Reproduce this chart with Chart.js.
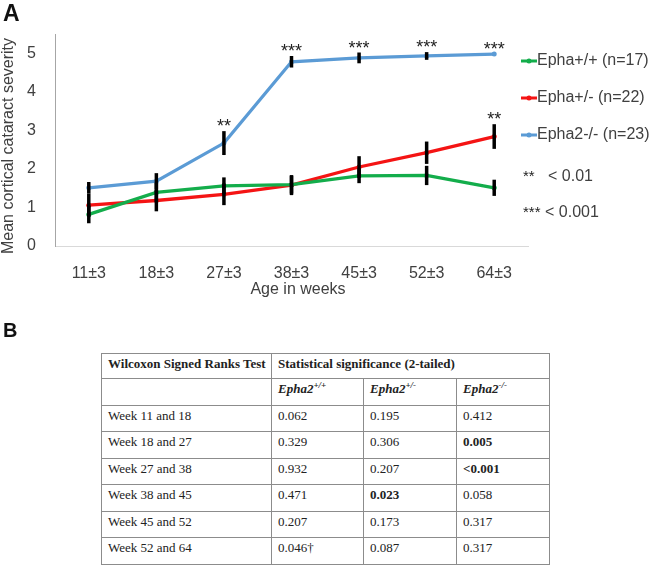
<!DOCTYPE html>
<html>
<head>
<meta charset="utf-8">
<script src="https://cdn.jsdelivr.net/npm/chart.js@4/dist/chart.umd.min.js"></script>
<style>
body{margin:0;background:#fff;width:652px;height:565px;overflow:hidden;position:relative;font-family:'Liberation Sans',Arial,sans-serif}
#wrap{position:absolute;left:0;top:0;width:652px;height:300px}
.panel{position:absolute;left:3px;font-weight:bold;color:#111}
#pA{top:2px;font-size:23px;line-height:23px}
#pB{top:320px;font-size:20px;line-height:20px}
table{position:absolute;left:101px;top:353px;border-collapse:collapse;table-layout:fixed;width:449px;font-family:'Liberation Serif','Times New Roman',serif;font-size:13px;color:#222}
td{border:1px solid #8c8c8c;padding:2px 6px 0;vertical-align:top;line-height:15px;white-space:nowrap;overflow:hidden}
tr{height:26.5px}
tr.head{height:25px}
sup{font-size:9px;line-height:0}
</style>
</head>
<body>
<div id="wrap"><canvas id="severityChart"></canvas></div>
<div class="panel" id="pA">A</div>
<div class="panel" id="pB">B</div>
<table id="stats"></table>
<script>
// panel A data
const weeks = ['11±3', '18±3', '27±3', '38±3', '45±3', '52±3', '64±3'];
const wildType = [0.82, 1.39, 1.56, 1.59, 1.82, 1.83, 1.51];
const wildTypeErr = [0.23, 0.25, 0.22, 0.23, 0.19, 0.25, 0.21];
const hetero = [1.06, 1.18, 1.34, 1.58, 2.05, 2.42, 2.84];
const heteroErr = [0.30, 0.28, 0.28, 0.26, 0.28, 0.29, 0.32];
const knockout = [1.51, 1.68, 2.67, 4.78, 4.88, 4.93, 4.98];
const knockoutErr = [0.15, 0.21, 0.31, 0.15, 0.14, 0.10, 0];
const heteroStars = ['', '', '', '', '', '', '**'];
const knockoutStars = ['', '', '**', '***', '***', '***', '***'];
const yTicks = [0, 1, 2, 3, 4, 5];
const seriesNames = ['Epha+/+ (n=17)', 'Epha+/- (n=22)', 'Epha2-/- (n=23)'];
const pNotes = [['**', '< 0.01'], ['***', '< 0.001']];
const xTitle = 'Age in weeks';
const yTitle = 'Mean cortical cataract severity';

// panel B data
const tableTitle = ['Wilcoxon Signed Ranks Test', 'Statistical significance (2-tailed)'];
const genotypes = ['+/+', '+/-', '-/-'];
const intervals = ['Week 11 and 18', 'Week 18 and 27', 'Week 27 and 38', 'Week 38 and 45', 'Week 45 and 52', 'Week 52 and 64'];
const pWild = ['0.062', '0.329', '0.932', '0.471', '0.207', '0.046†'];
const pHetero = ['0.195', '0.306', '0.207', '0.023', '0.173', '0.087'];
const pKnockout = ['0.412', '0.005', '<0.001', '0.058', '0.317', '0.317'];

const GREEN = '#13ad4b', RED = '#f41414', BLUE = '#5b9bd5';
const TXT = '#404040';

function line(label, data, color, err, stars) {
    return {
        label: label, data: data, err: err, stars: stars,
        borderColor: color, backgroundColor: color,
        borderWidth: 3.3, pointRadius: 2.5, pointBorderWidth: 0,
        tension: 0
    };
}

const extras = {
    id: 'extras',
    afterDatasetsDraw(chart) {
        const c = chart.ctx, y = chart.scales.y;
        c.save();
        // error bars
        c.strokeStyle = '#000';
        c.lineWidth = 3.5;
        chart.data.datasets.forEach((ds, i) => {
            chart.getDatasetMeta(i).data.forEach((pt, j) => {
                if (!ds.err[j]) return;
                c.beginPath();
                c.moveTo(pt.x, y.getPixelForValue(ds.data[j] + ds.err[j]));
                c.lineTo(pt.x, y.getPixelForValue(ds.data[j] - ds.err[j]));
                c.stroke();
            });
        });
        // significance stars
        c.fillStyle = '#222';
        c.font = '18px "Liberation Sans", Arial';
        c.textAlign = 'center';
        c.textBaseline = 'alphabetic';
        chart.data.datasets.forEach((ds, i) => {
            chart.getDatasetMeta(i).data.forEach((pt, j) => {
                if (!ds.stars[j]) return;
                c.fillText(ds.stars[j], pt.x, y.getPixelForValue(ds.data[j] + ds.err[j]) + 1);
            });
        });
        // axis titles
        c.fillStyle = TXT;
        c.font = '16px "Liberation Sans", Arial';
        c.textBaseline = 'middle';
        c.fillText(xTitle, 298, 290);
        c.save();
        c.translate(9, 146);
        c.rotate(-Math.PI / 2);
        c.fillText(yTitle, 0, 0);
        c.restore();
        // legend
        const lx = 521, ys = [61, 98, 135];
        c.textAlign = 'left';
        chart.data.datasets.forEach((ds, i) => {
            c.strokeStyle = ds.borderColor;
            c.lineWidth = 3;
            c.beginPath();
            c.moveTo(lx, ys[i]);
            c.lineTo(lx + 16, ys[i]);
            c.stroke();
            c.fillStyle = ds.borderColor;
            c.beginPath();
            c.arc(lx + 8, ys[i], 2.5, 0, Math.PI * 2);
            c.fill();
            c.fillStyle = TXT;
            c.fillText(ds.label, lx + 16, ys[i]);
        });
        c.fillStyle = '#222';
        c.font = '15px "Liberation Sans", Arial';
        c.fillText(pNotes[0][0], 523, 177);
        c.fillText(pNotes[1][0], 523, 213);
        c.fillStyle = TXT;
        c.font = '16px "Liberation Sans", Arial';
        c.fillText(pNotes[0][1], 548, 177);
        c.fillText(pNotes[1][1], 545, 213);
        c.restore();
    }
};

Chart.defaults.font.family = '"Liberation Sans", Arial, sans-serif';
Chart.defaults.font.size = 16;
Chart.defaults.color = TXT;

const ctx = document.getElementById('severityChart');
let severityChart = new Chart(ctx, {
    type: 'line',
    data: {
        labels: weeks,
        datasets: [
            line(seriesNames[0], wildType, GREEN, wildTypeErr, ['', '', '', '', '', '', '']),
            line(seriesNames[1], hetero, RED, heteroErr, heteroStars),
            line(seriesNames[2], knockout, BLUE, knockoutErr, knockoutStars)
        ]
    },
    options: {
        responsive: true,
        maintainAspectRatio: false,
        animation: false,
        layout: {padding: {top: 34, right: 124, left: 0, bottom: 0}},
        plugins: {legend: {display: false}, tooltip: {enabled: false}},
        scales: {
            x: {
                offset: true,
                grid: {display: false},
                border: {color: '#d9d9d9', width: 1},
                ticks: {padding: 10, maxRotation: 0},
                afterFit: s => { s.height = 54; }
            },
            y: {
                min: 0, max: 5.5,
                grid: {display: false},
                border: {color: '#a6a6a6', width: 1},
                ticks: {stepSize: 1, padding: 11},
                afterBuildTicks: s => { s.ticks = yTicks.map(v => ({value: v})); },
                afterFit: s => { s.width = 55; }
            }
        }
    },
    plugins: [extras]
});

// table
const tbl = document.getElementById('stats');
let html = '<colgroup><col style="width:170px"><col style="width:92px"><col style="width:93px"><col style="width:93px"></colgroup>';
html += '<tr class="head"><td><b>' + tableTitle[0] + '</b></td><td colspan="3"><b>' + tableTitle[1] + '</b></td></tr>';
html += '<tr><td></td>' + genotypes.map(g => '<td><b><i>Epha2<sup>' + g + '</sup></i></b></td>').join('') + '</tr>';
// significant values (p < 0.05, no dagger flag) are bold
const cell = v => (parseFloat(v.replace('<', '')) < 0.05 && v.indexOf('†') < 0) ? '<td><b>' + v + '</b></td>' : '<td>' + v + '</td>';
intervals.forEach((r, i) => {
    html += '<tr><td>' + r + '</td>' + cell(pWild[i]) + cell(pHetero[i]) + cell(pKnockout[i]) + '</tr>';
});
tbl.innerHTML = html;
</script>
</body>
</html>
